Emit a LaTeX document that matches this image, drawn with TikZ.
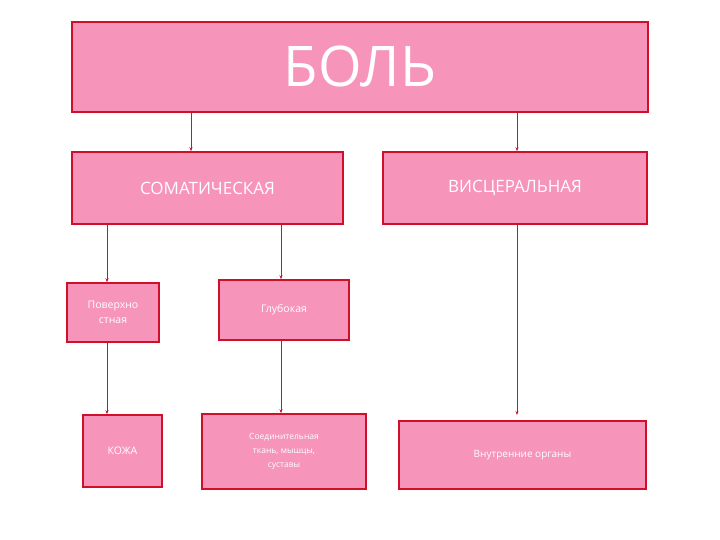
\documentclass[tikz,border=0pt]{standalone}
\usepackage{fontspec}
\setmainfont{Open Sans}
\usetikzlibrary{arrows.meta}
\definecolor{pk}{HTML}{F794BA}
\definecolor{rd}{HTML}{D0102A}
\begin{document}
\begin{tikzpicture}[x=1pt,y=-1pt,
  bx/.style={draw=rd,fill=pk,line width=1.5pt,text=white,align=center,inner sep=0pt},
  ar/.style={draw=rd,line width=1pt,-{Stealth[length=4pt,width=3pt]}}]
\useasboundingbox (0,0) rectangle (720,540);
\node[bx,minimum width=576,minimum height=90,font=\fontsize{56}{60}\selectfont] (bol) at (360,67) {БОЛЬ};
\node[bx,minimum width=271,minimum height=72,font=\fontsize{17}{20}\selectfont] (som) at (207.5,188) {СОМАТИЧЕСКАЯ};
\node[bx,minimum width=264,minimum height=72,font=\fontsize{17}{20}\selectfont] (vis) at (515,188) {ВИСЦЕРАЛЬНАЯ};
\node[bx,minimum width=92,minimum height=59,font=\fontsize{10.5}{15}\selectfont] (pov) at (113,312.5) {Поверхно\\стная};
\node[bx,minimum width=130,minimum height=60,font=\fontsize{10.5}{13}\selectfont] (glu) at (284,310) {Глубокая};
\node[bx,minimum width=79,minimum height=72,font=\fontsize{10.5}{13}\selectfont] (koz) at (122.5,451) {КОЖА};
\node[bx,minimum width=164,minimum height=75,font=\fontsize{8.5}{14}\selectfont] (soe) at (284,451.5) {Соединительная\\ткань, мышцы,\\суставы};
\node[bx,minimum width=247,minimum height=68,font=\fontsize{10}{13}\selectfont] (vnu) at (522.5,455) {Внутренние органы};
\draw[ar] (191,112) -- (som.north -| 191,0);
\draw[ar] (517,112) -- (vis.north -| 517,0);
\draw[ar] (som.south -| 107,0) -- (pov.north -| 107,0);
\draw[ar] (som.south -| 281,0) -- (glu.north -| 281,0);
\draw[ar] (pov.south -| 107,0) -- (koz.north -| 107,0);
\draw[ar] (glu.south -| 281,0) -- (soe.north -| 281,0);
\draw[ar] (vis.south -| 517,0) -- (517,415);
\end{tikzpicture}
\end{document}
